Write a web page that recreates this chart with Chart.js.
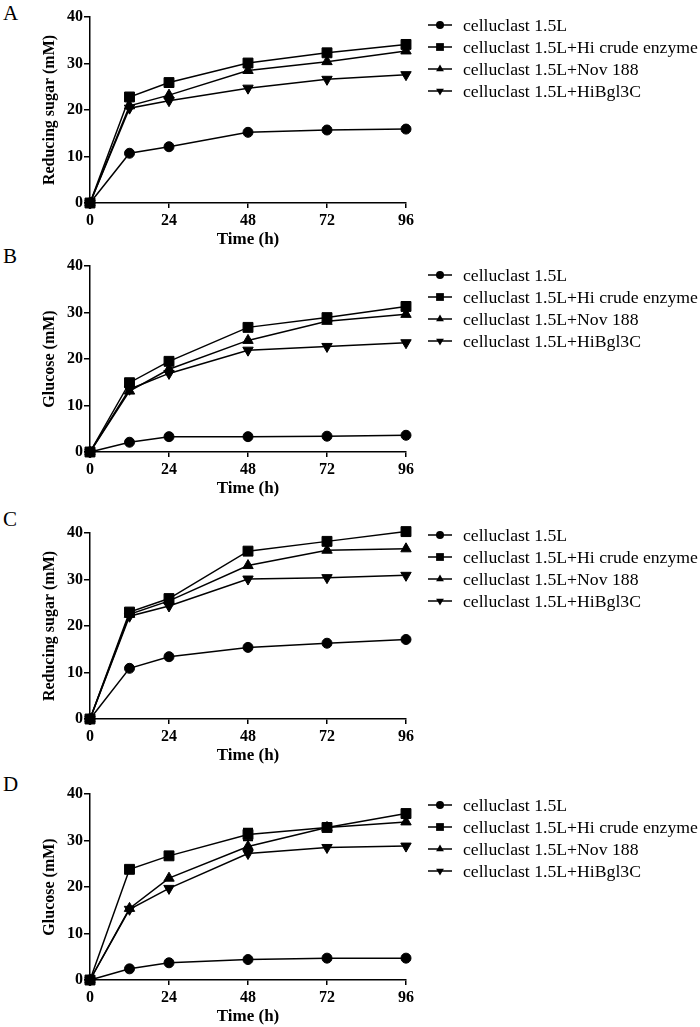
<!DOCTYPE html>
<html>
<head>
<meta charset="utf-8">
<script src="https://cdn.jsdelivr.net/npm/chart.js@4.4.0/dist/chart.umd.min.js"></script>
<style>
  body { margin:0; background:#fff; width:700px; height:1027px; overflow:hidden; position:relative; font-family:"Liberation Serif", "Times New Roman", serif; }
  canvas { position:absolute; left:0; }
  .tag { position:absolute; left:3px; font-size:21px; line-height:22px; color:#000; }
</style>
</head>
<body>
<div class="tag" style="top:2px">A</div>
<div class="tag" style="top:245px">B</div>
<div class="tag" style="top:508px">C</div>
<div class="tag" style="top:773px">D</div>
<canvas id="pA" width="700" height="257" style="top:0px"></canvas>
<canvas id="pB" width="700" height="257" style="top:249px"></canvas>
<canvas id="pC" width="700" height="257" style="top:516px"></canvas>
<canvas id="pD" width="700" height="257" style="top:777px"></canvas>
<script>
// ── data ─────────────────────────────────────────────────────────────────────
const hours  = [0, 12, 24, 48, 72, 96];
const xTicks = [0, 24, 48, 72, 96];
const seriesLabels = [
  "celluclast 1.5L",
  "celluclast 1.5L+Hi crude enzyme",
  "celluclast 1.5L+Nov 188",
  "celluclast 1.5L+HiBgl3C"
];

// A: reducing sugar
const aCellu = [0, 10.7, 12.1, 15.2, 15.7, 15.9];
const aCrude = [0, 22.8, 25.9, 30.1, 32.3, 34.1];
const aNov   = [0, 20.9, 23.2, 28.5, 30.4, 32.7];
const aBgl   = [0, 20.4, 22.0, 24.7, 26.6, 27.6];
// B: glucose
const bCellu = [0, 2.1, 3.3, 3.3, 3.4, 3.6];
const bCrude = [0, 14.9, 19.5, 26.8, 28.9, 31.3];
const bNov   = [0, 13.1, 17.8, 24.0, 28.1, 29.6];
const bBgl   = [0, 13.5, 16.9, 21.9, 22.7, 23.5];
// C: reducing sugar
const cCellu = [0, 10.9, 13.4, 15.4, 16.3, 17.1];
const cCrude = [0, 23.0, 25.9, 36.1, 38.2, 40.3];
const cNov   = [0, 22.5, 25.4, 33.0, 36.3, 36.6];
const cBgl   = [0, 22.1, 24.3, 30.1, 30.4, 30.9];
// D: glucose
const dCellu = [0, 2.4, 3.7, 4.4, 4.7, 4.7];
const dCrude = [0, 23.8, 26.7, 31.3, 32.8, 35.8];
const dNov   = [0, 15.4, 21.9, 28.7, 32.8, 34.0];
const dBgl   = [0, 15.2, 19.7, 27.2, 28.5, 28.8];
const dCrudeErr = [0, 0, 0, 1.3, 0.6, 0];

// ── styles ───────────────────────────────────────────────────────────────────
const MARKERS = [
  { pointStyle:"circle",   radius:5,   rotation:0,   legR:4 },
  { pointStyle:"rect",     radius:7,   rotation:0,   legR:5.5 },
  { pointStyle:"triangle", radius:6,   rotation:0,   legR:4.5 },
  { pointStyle:"triangle", radius:6,   rotation:180, legR:4.5 },
];
const SERIF = "'Liberation Serif', 'Times New Roman', serif";

// legend drawn as line + marker + text to the right of the plot
const sideLegend = {
  id: "sideLegend",
  afterDraw(chart, args, opts) {
    const ctx = chart.ctx;
    const top = chart.chartArea.top + opts.offset;
    ctx.save();
    chart.data.datasets.forEach((ds, i) => {
      const y = top + i * opts.step;
      const m = MARKERS[i];
      ctx.strokeStyle = "#000"; ctx.fillStyle = "#000"; ctx.lineWidth = 1.5;
      ctx.beginPath(); ctx.moveTo(428, y); ctx.lineTo(452, y); ctx.stroke();
      Chart.helpers.drawPoint(ctx, { pointStyle:m.pointStyle, rotation:m.rotation, radius:m.legR, borderWidth:0 }, 440, y);
      ctx.font = `17.7px ${SERIF}`;
      ctx.textBaseline = "middle"; ctx.textAlign = "left";
      ctx.fillText(ds.label, 463, y + 1);
    });
    ctx.restore();
  }
};

// vertical error bars from dataset.errors
const errorBars = {
  id: "errorBars",
  afterDatasetsDraw(chart) {
    const ctx = chart.ctx, xs = chart.scales.x, ys = chart.scales.y;
    ctx.save();
    ctx.strokeStyle = "#000"; ctx.lineWidth = 1.5;
    chart.data.datasets.forEach(ds => {
      if (!ds.errors) return;
      ds.data.forEach((p, i) => {
        const e = ds.errors[i];
        if (!e) return;
        const x = xs.getPixelForValue(p.x);
        const y1 = ys.getPixelForValue(p.y + e), y2 = ys.getPixelForValue(p.y - e);
        ctx.beginPath();
        ctx.moveTo(x, y1); ctx.lineTo(x, y2);
        ctx.moveTo(x - 5, y1); ctx.lineTo(x + 5, y1);
        ctx.moveTo(x - 5, y2); ctx.lineTo(x + 5, y2);
        ctx.stroke();
      });
    });
    ctx.restore();
  }
};

function makeSet(label, vals, i, errors) {
  const m = MARKERS[i];
  return {
    label,
    data: hours.map((h, k) => ({ x:h, y:vals[k] })),
    errors,
    borderColor:"#000", borderWidth:1.5, backgroundColor:"#000",
    pointStyle:m.pointStyle, pointRadius:m.radius, pointRotation:m.rotation,
    pointBackgroundColor:"#000", pointBorderColor:"#000", pointBorderWidth:1,
    tension:0, clip:false,
  };
}

function makePanel(id, yTitle, series, legOffset, errs) {
  const axisGrid = { drawOnChartArea:false, color:"#000", lineWidth:1.5, tickLength:6 };
  const tickFont = { family:SERIF, size:16, weight:"bold" };
  new Chart(document.getElementById(id), {
    type:"line",
    data:{ datasets: series.map((vals, i) => makeSet(seriesLabels[i], vals, i, errs ? errs[i] : undefined)) },
    options:{
      responsive:false, animation:false,
      layout:{ padding:{ left:38, top:17, right:294, bottom:0 } },
      plugins:{ legend:{ display:false }, tooltip:{ enabled:false }, sideLegend:{ offset:legOffset, step:22 } },
      scales:{
        x:{
          type:"linear", min:0, max:96,
          afterBuildTicks: s => { s.ticks = xTicks.map(v => ({ value:v })); },
          afterFit: s => { s.height = 54; },
          grid:{ ...axisGrid, tickLength:5 },
          border:{ color:"#000", width:1.5 },
          ticks:{ color:"#000", font:tickFont, padding:3, maxRotation:0 },
          title:{ display:true, text:"Time (h)", color:"#000", font:{ family:SERIF, size:17, weight:"bold" }, padding:{ top:0, bottom:7 } },
        },
        y:{
          min:0, max:40,
          afterFit: s => { s.width = 52; },
          grid:axisGrid,
          border:{ color:"#000", width:1.5 },
          ticks:{ color:"#000", font:tickFont, stepSize:10, padding:1 },
          title:{ display:true, text:yTitle, color:"#000", font:{ family:SERIF, size:16, weight:"bold" }, padding:{ top:2, bottom:0 } },
        },
      },
    },
    plugins:[sideLegend, errorBars],
  });
}

makePanel("pA", "Reducing sugar (mM)", [aCellu, aCrude, aNov, aBgl], 8);
makePanel("pB", "Glucose (mM)",        [bCellu, bCrude, bNov, bBgl], 9);
makePanel("pC", "Reducing sugar (mM)", [cCellu, cCrude, cNov, cBgl], 2);
makePanel("pD", "Glucose (mM)",        [dCellu, dCrude, dNov, dBgl], 11, [null, dCrudeErr, null, null]);
</script>
</body>
</html>
